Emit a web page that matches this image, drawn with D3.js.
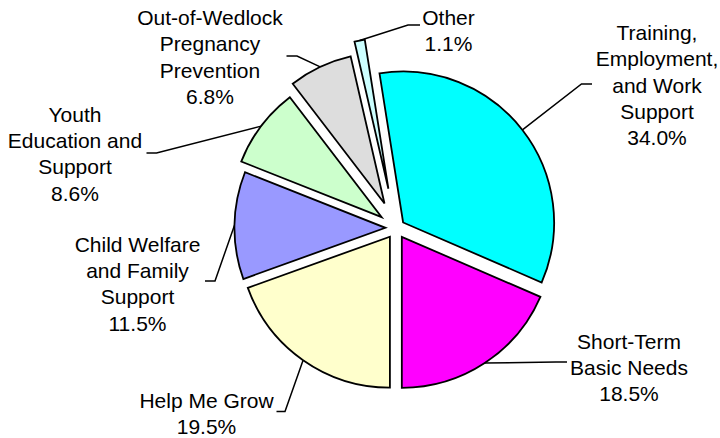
<!DOCTYPE html>
<html>
<head>
<meta charset="utf-8">
<script src="https://cdn.jsdelivr.net/npm/d3@7"></script>
<style>
  html, body { margin: 0; padding: 0; background: #fff; }
  svg { display: block; }
  text { font-family: "Liberation Sans", Arial, sans-serif; font-size: 21px; fill: #000; }
</style>
</head>
<body>
<svg id="chart" width="720" height="438"></svg>
<script>
// Share of funding by program area (percent)
const categories = [
  "Training,\nEmployment,\nand Work\nSupport",
  "Short-Term\nBasic Needs",
  "Help Me Grow",
  "Child Welfare\nand Family\nSupport",
  "Youth\nEducation and\nSupport",
  "Out-of-Wedlock\nPregnancy\nPrevention",
  "Other"
];
const values = [34.0, 18.5, 19.5, 11.5, 8.6, 6.8, 1.1];

// Slice appearance
const colors  = ["#00FFFF", "#FF00FF", "#FFFFCC", "#9999FF", "#CCFFCC", "#DDDDDD", "#CCFFFF"];
const explode = [9, 10.6, 10.6, 10.6, 18, 27, 40];

// Label layout: text anchor centre, first baseline, leader elbow and leader end
const labelLayout = [
  { x: 657,   y: 40,    elbow: [581.5, 84],  end: [592, 84] },
  { x: 629,   y: 348.5, elbow: [556, 362],   end: [567, 362] },
  { x: 206.5, y: 408,   elbow: [285, 411.5], end: [276.5, 411.5] },
  { x: 137.5, y: 251.7, elbow: [215, 281],   end: [205, 281] },
  { x: 75,    y: 121.7, elbow: [156.5, 153], end: [146.5, 153] },
  { x: 210,   y: 25,    elbow: [297, 56],    end: [286.5, 56] },
  { x: 448.5, y: 24.5,  elbow: [408, 25],    end: [420, 25] }
];

const cx = 396, cy = 228, radius = 151, lineGap = 26.3;
const startAngle = -9 * Math.PI / 180;

const svg = d3.select("#chart");

const pie = d3.pie()
  .sort(null)
  .value(d => d)
  .startAngle(startAngle)
  .endAngle(startAngle + 2 * Math.PI);

const arcs = pie(values);
const arc = d3.arc().innerRadius(0).outerRadius(radius);

// Unit direction of an angle measured clockwise from 12 o'clock
const dir = a => [Math.sin(a), -Math.cos(a)];

const slices = svg.append("g").attr("class", "slices");
arcs.forEach((a, i) => {
  const mid = (a.startAngle + a.endAngle) / 2;
  const [dx, dy] = dir(mid);
  const ox = cx + dx * explode[i], oy = cy + dy * explode[i];
  a.origin = [ox, oy];
  a.mid = mid;
  slices.append("path")
    .attr("transform", `translate(${ox},${oy})`)
    .attr("d", arc(a))
    .attr("fill", colors[i])
    .attr("stroke", "#000")
    .attr("stroke-width", 1.8)
    .attr("stroke-linejoin", "miter");
});

// Leader lines from each slice's outer edge to its label
const leaders = svg.append("g").attr("class", "leaders");
arcs.forEach((a, i) => {
  const [dx, dy] = dir(a.mid);
  const p0 = [a.origin[0] + dx * radius, a.origin[1] + dy * radius];
  const L = labelLayout[i];
  leaders.append("path")
    .attr("d", d3.line()([p0, L.elbow, L.end]))
    .attr("fill", "none")
    .attr("stroke", "#000")
    .attr("stroke-width", 1.5);
});

// Category and percentage labels
const labels = svg.append("g").attr("class", "labels");
arcs.forEach((a, i) => {
  const L = labelLayout[i];
  const lines = categories[i].split("\n").concat(values[i].toFixed(1) + "%");
  const t = labels.append("text")
    .attr("text-anchor", "middle");
  lines.forEach((s, k) => {
    t.append("tspan")
      .attr("x", L.x)
      .attr("y", L.y + k * lineGap)
      .text(s);
  });
});
</script>
</body>
</html>
